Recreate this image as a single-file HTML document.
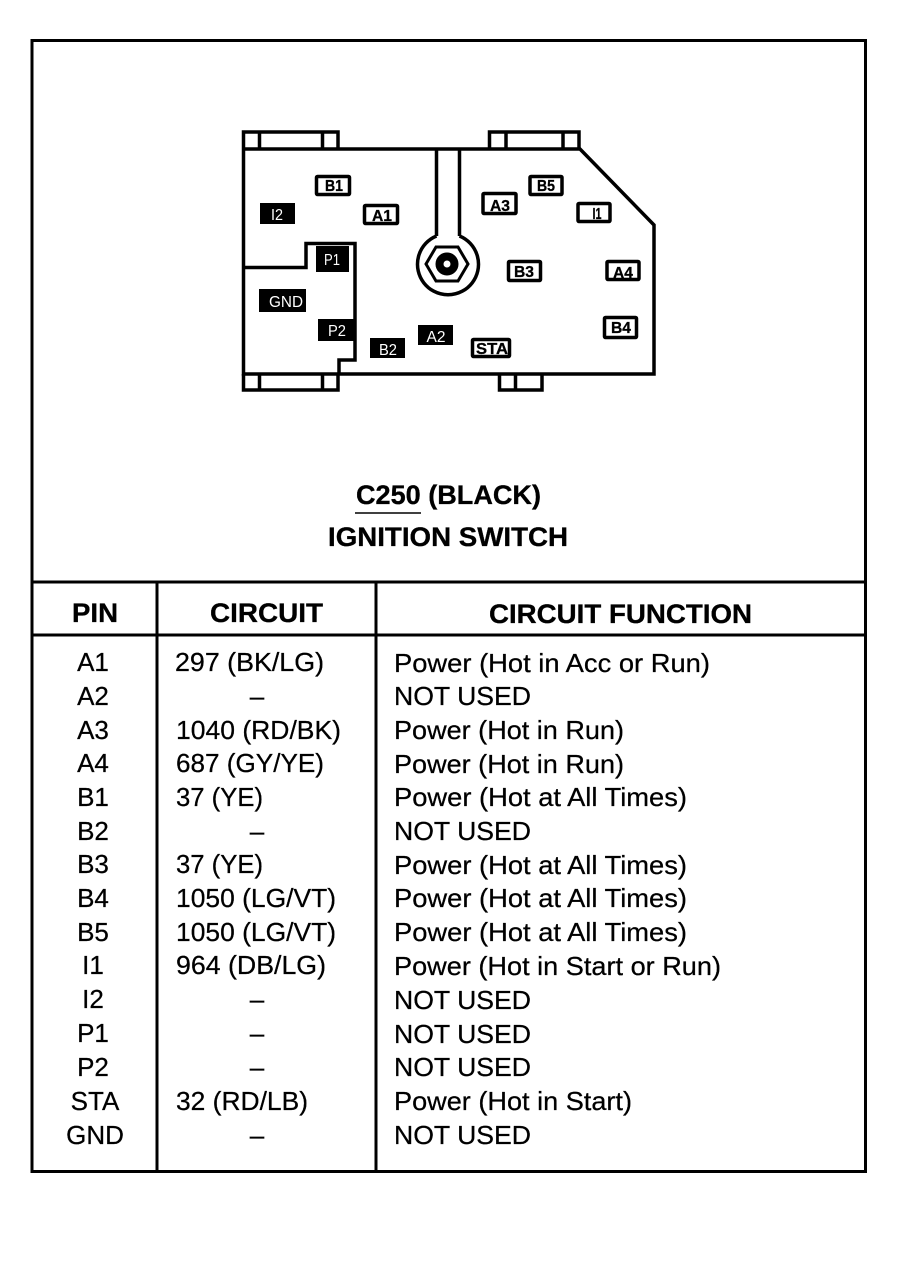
<!DOCTYPE html>
<html><head><meta charset="utf-8"><style>
html,body{margin:0;padding:0;background:#fff}
svg{display:block}
text{font-family:"Liberation Sans",sans-serif;fill:#000}
.t{font-size:26px;stroke:#000;stroke-width:.25px}
.h{font-size:27px;font-weight:bold}
.l{font-size:16px}
.w{fill:#fff}
.b{font-weight:bold;stroke:#000;stroke-width:.3px}
.k{fill:#000;stroke:none}
.o{fill:#fff;stroke:#000;stroke-width:3.5}
</style></head><body>
<svg width="908" height="1280" viewBox="0 0 908 1280" xmlns="http://www.w3.org/2000/svg">
<rect width="908" height="1280" fill="#fff"/>
<g fill="none" stroke="#000" stroke-width="3">
<rect x="32" y="40.500" width="833.500" height="1131"/>
<path d="M32 582H866M32 635H866M157 582V1171M376 582V1171"/>
</g>
<g fill="none" stroke="#000" stroke-width="3.500">
<path d="M243.500 149H580L654 225V374H339V360H355V243.500H306V267.500H243.500M243.500 149V374H339"/>
<path d="M243.500 149V132H338V149M259.500 132V149M322.500 132V149"/>
<path d="M243.500 374V390H338V374M259.500 374V390M322.500 374V390"/>
<path d="M489.500 149V132H579V149M506 132V149M563 132V149"/>
<path d="M499.500 374V390H542V374M515.500 374V390"/>
<path d="M436.500 149V236M459.500 149V236"/>
<path d="M436.500 236A30.500 30.500 0 1 0 459.500 236" stroke-width="3.500"/>
<path d="M436 247H458L468 264L458 281H436L426 264Z" stroke-width="3"/>
<circle cx="447" cy="264" r="7.500" stroke-width="8"/>
</g>
<g class="k">
<rect x="260" y="203" width="35" height="21"/>
<rect x="316" y="246" width="33" height="26"/>
<rect x="259" y="289" width="47" height="23"/>
<rect x="318" y="319" width="37" height="22"/>
<rect x="370" y="338" width="35" height="20"/>
<rect x="418" y="325" width="35" height="20"/>
</g>
<g class="l w" text-anchor="middle">
<text class="w" x="277" y="220" textLength="12" lengthAdjust="spacingAndGlyphs">I2</text>
<text class="w" x="332" y="265" textLength="16" lengthAdjust="spacingAndGlyphs">P1</text>
<text class="w" x="286" y="307" textLength="34" lengthAdjust="spacingAndGlyphs">GND</text>
<text class="w" x="337" y="336" textLength="18" lengthAdjust="spacingAndGlyphs">P2</text>
<text class="w" x="388" y="355" textLength="18" lengthAdjust="spacingAndGlyphs">B2</text>
<text class="w" x="436" y="342" textLength="19" lengthAdjust="spacingAndGlyphs">A2</text>
</g>
<g class="o">
<rect x="316.500" y="176.500" width="33" height="18" rx="1"/>
<rect x="364.500" y="205.500" width="33" height="18" rx="1"/>
<rect x="483" y="193.500" width="33" height="20" rx="1"/>
<rect x="530" y="176.500" width="32" height="18" rx="1"/>
<rect x="578" y="203.500" width="32" height="18" rx="1"/>
<rect x="508.500" y="261.500" width="32" height="19" rx="1"/>
<rect x="607" y="261.500" width="32" height="18" rx="1"/>
<rect x="604.500" y="317.500" width="32" height="20" rx="1"/>
<rect x="472.500" y="339.500" width="37" height="17" rx="1"/>
</g>
<g class="l b" text-anchor="middle">
<text x="334" y="191" textLength="18" lengthAdjust="spacingAndGlyphs">B1</text>
<text x="382" y="221" textLength="20" lengthAdjust="spacingAndGlyphs">A1</text>
<text x="500" y="211" textLength="20" lengthAdjust="spacingAndGlyphs">A3</text>
<text x="546" y="191" textLength="18" lengthAdjust="spacingAndGlyphs">B5</text>
<text x="597" y="219" textLength="9" lengthAdjust="spacingAndGlyphs">I1</text>
<text x="524" y="277" textLength="20" lengthAdjust="spacingAndGlyphs">B3</text>
<text x="623" y="278" textLength="20" lengthAdjust="spacingAndGlyphs">A4</text>
<text x="621" y="333" textLength="20" lengthAdjust="spacingAndGlyphs">B4</text>
<text x="492" y="354" textLength="32" lengthAdjust="spacingAndGlyphs">STA</text>
</g>
<g class="h" stroke="#000" stroke-width=".3">
<text x="356" y="504" textLength="185" lengthAdjust="spacingAndGlyphs">C250 (BLACK)</text>
<text x="328" y="546" textLength="240" lengthAdjust="spacingAndGlyphs">IGNITION SWITCH</text>
<text x="72" y="622" textLength="46" lengthAdjust="spacingAndGlyphs">PIN</text>
<text x="210" y="622" textLength="113" lengthAdjust="spacingAndGlyphs">CIRCUIT</text>
<text x="489" y="623" textLength="263" lengthAdjust="spacingAndGlyphs">CIRCUIT FUNCTION</text>
</g>
<path d="M355 513H421" stroke="#000" stroke-width="1.500"/>
<g class="t">
<g text-anchor="middle">
<text x="93" y="671">A1</text><text x="93" y="705">A2</text><text x="93" y="739">A3</text><text x="93" y="772">A4</text><text x="93" y="806">B1</text><text x="93" y="840">B2</text><text x="93" y="873">B3</text><text x="93" y="907">B4</text><text x="93" y="941">B5</text><text x="93" y="974">I1</text><text x="93" y="1008">I2</text><text x="93" y="1042">P1</text><text x="93" y="1076">P2</text><text x="95" y="1110">STA</text><text x="95" y="1144">GND</text>
<text x="257" y="705">–</text><text x="257" y="840">–</text><text x="257" y="1008">–</text><text x="257" y="1042">–</text><text x="257" y="1076">–</text><text x="257" y="1144">–</text>
</g>
<text x="175" y="671" textLength="149" lengthAdjust="spacingAndGlyphs">297 (BK/LG)</text>
<text x="176" y="739" textLength="165" lengthAdjust="spacingAndGlyphs">1040 (RD/BK)</text>
<text x="176" y="772" textLength="148" lengthAdjust="spacingAndGlyphs">687 (GY/YE)</text>
<text x="176" y="806" textLength="87" lengthAdjust="spacingAndGlyphs">37 (YE)</text>
<text x="176" y="873" textLength="87" lengthAdjust="spacingAndGlyphs">37 (YE)</text>
<text x="176" y="907" textLength="160" lengthAdjust="spacingAndGlyphs">1050 (LG/VT)</text>
<text x="176" y="941" textLength="160" lengthAdjust="spacingAndGlyphs">1050 (LG/VT)</text>
<text x="176" y="974" textLength="150" lengthAdjust="spacingAndGlyphs">964 (DB/LG)</text>
<text x="176" y="1110" textLength="132" lengthAdjust="spacingAndGlyphs">32 (RD/LB)</text>
<text x="394" y="672" textLength="316" lengthAdjust="spacingAndGlyphs">Power (Hot in Acc or Run)</text>
<text x="394" y="705" textLength="137" lengthAdjust="spacingAndGlyphs">NOT USED</text>
<text x="394" y="739" textLength="230" lengthAdjust="spacingAndGlyphs">Power (Hot in Run)</text>
<text x="394" y="773" textLength="230" lengthAdjust="spacingAndGlyphs">Power (Hot in Run)</text>
<text x="394" y="806" textLength="293" lengthAdjust="spacingAndGlyphs">Power (Hot at All Times)</text>
<text x="394" y="840" textLength="137" lengthAdjust="spacingAndGlyphs">NOT USED</text>
<text x="394" y="874" textLength="293" lengthAdjust="spacingAndGlyphs">Power (Hot at All Times)</text>
<text x="394" y="907" textLength="293" lengthAdjust="spacingAndGlyphs">Power (Hot at All Times)</text>
<text x="394" y="941" textLength="293" lengthAdjust="spacingAndGlyphs">Power (Hot at All Times)</text>
<text x="394" y="975" textLength="327" lengthAdjust="spacingAndGlyphs">Power (Hot in Start or Run)</text>
<text x="394" y="1009" textLength="137" lengthAdjust="spacingAndGlyphs">NOT USED</text>
<text x="394" y="1043" textLength="137" lengthAdjust="spacingAndGlyphs">NOT USED</text>
<text x="394" y="1076" textLength="137" lengthAdjust="spacingAndGlyphs">NOT USED</text>
<text x="394" y="1110" textLength="238" lengthAdjust="spacingAndGlyphs">Power (Hot in Start)</text>
<text x="394" y="1144" textLength="137" lengthAdjust="spacingAndGlyphs">NOT USED</text>
</g>
</svg>
</body></html>
